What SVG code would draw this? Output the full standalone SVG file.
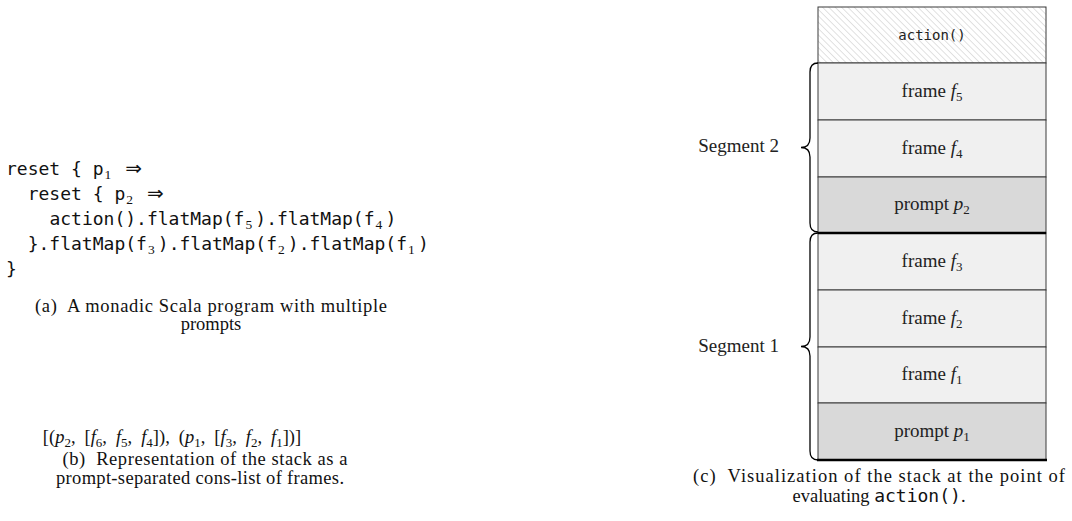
<svg xmlns="http://www.w3.org/2000/svg" width="1072" height="521" viewBox="0 0 1072 521">
<style>
.bg{fill:#ffffff}
.mono{font-family:"DejaVu Sans Mono",monospace;font-size:18px;fill:#111}
.sub{font-family:"Liberation Serif",serif;font-size:13.5px;fill:#111}
.arr{font-family:"DejaVu Sans",sans-serif;font-size:20px;fill:#111}
.cap{font-family:"Liberation Serif",serif;font-size:18.5px;fill:#111}
.it{font-style:italic}
.lbl{font-family:"Liberation Serif",serif;font-size:19px;fill:#222;text-anchor:middle}
.lsub{font-family:"Liberation Serif",serif;font-size:13px}
.seg{font-family:"Liberation Serif",serif;font-size:19px;fill:#222;text-anchor:end}
.smono{font-family:"DejaVu Sans Mono",monospace;font-size:14px;fill:#222;text-anchor:middle}
.frame{fill:#f0f0f0;stroke:#3a3a3a;stroke-width:1}
.prompt{fill:#d9d9d9;stroke:#3a3a3a;stroke-width:1}
.act{fill:url(#hatch);stroke:#3a3a3a;stroke-width:1}
.thick{stroke:#000;stroke-width:2.5}
.brace{fill:none;stroke:#000;stroke-width:1.3}
</style>
<defs>
<pattern id="hatch" width="4.5" height="4.5" patternUnits="userSpaceOnUse" patternTransform="rotate(-45)">
<rect width="4.5" height="4.5" fill="#ffffff"/>
<line x1="0" y1="0" x2="0" y2="4.5" stroke="#b4b4b4" stroke-width="0.8"/>
</pattern>
</defs>
<rect class="bg" x="0" y="0" width="1072" height="521"/>

<g id="code">
<text class="mono" y="175"><tspan x="6">reset { p</tspan><tspan class="sub" x="104.6" y="179">1</tspan><tspan class="arr" x="125.2" y="175">⇒</tspan></text>
<text class="mono" y="200"><tspan x="27.7">reset { p</tspan><tspan class="sub" x="126.2" y="204">2</tspan><tspan class="arr" x="146.9" y="200">⇒</tspan></text>
<text class="mono" y="225"><tspan x="49.4">action().flatMap(f</tspan><tspan class="sub" x="245.5" y="229">5</tspan><tspan x="255.3" y="225">).flatMap(f</tspan><tspan class="sub" x="375.6" y="229">4</tspan><tspan x="385.4" y="225">)</tspan></text>
<text class="mono" y="250"><tspan x="27.7">}.flatMap(f</tspan><tspan class="sub" x="147.9" y="254">3</tspan><tspan x="157.8" y="250">).flatMap(f</tspan><tspan class="sub" x="278" y="254">2</tspan><tspan x="287.8" y="250">).flatMap(f</tspan><tspan class="sub" x="408.1" y="254">1</tspan><tspan x="417.9" y="250">)</tspan></text>
<text class="mono" x="6" y="275">}</text>
</g>

<g id="caption-a">
<text class="cap" x="211" y="312" text-anchor="middle" textLength="352" xml:space="preserve">(a)  A monadic Scala program with multiple</text>
<text class="cap" x="211" y="330" text-anchor="middle">prompts</text>
</g>

<g id="list-b">
<text class="cap" x="172" y="443" text-anchor="middle" font-size="18">[(<tspan class="it">p</tspan><tspan class="lsub" dy="4">2</tspan><tspan dy="-4">,</tspan><tspan dx="9">[</tspan><tspan class="it">f</tspan><tspan class="lsub" dy="4">6</tspan><tspan dy="-4">,</tspan><tspan class="it" dx="9">f</tspan><tspan class="lsub" dy="4">5</tspan><tspan dy="-4">,</tspan><tspan class="it" dx="9">f</tspan><tspan class="lsub" dy="4">4</tspan><tspan dy="-4">]),</tspan><tspan dx="9">(</tspan><tspan class="it">p</tspan><tspan class="lsub" dy="4">1</tspan><tspan dy="-4">,</tspan><tspan dx="9">[</tspan><tspan class="it">f</tspan><tspan class="lsub" dy="4">3</tspan><tspan dy="-4">,</tspan><tspan class="it" dx="9">f</tspan><tspan class="lsub" dy="4">2</tspan><tspan dy="-4">,</tspan><tspan class="it" dx="9">f</tspan><tspan class="lsub" dy="4">1</tspan><tspan dy="-4">])]</tspan></text>
</g>

<g id="caption-b">
<text class="cap" x="205" y="465" text-anchor="middle" textLength="285" xml:space="preserve">(b)  Representation of the stack as a</text>
<text class="cap" x="200" y="484" text-anchor="middle" textLength="288">prompt-separated cons-list of frames.</text>
</g>

<g id="stack">
<g id="row-action"><rect class="act" x="818" y="7" width="228" height="56"/><text class="smono" x="932" y="40">action()</text></g>
<g id="row-f5"><rect class="frame" x="818" y="63" width="228" height="57"/><text class="lbl" x="932" y="97">frame <tspan class="it">f</tspan><tspan class="lsub" dy="4">5</tspan></text></g>
<g id="row-f4"><rect class="frame" x="818" y="120" width="228" height="57"/><text class="lbl" x="932" y="154">frame <tspan class="it">f</tspan><tspan class="lsub" dy="4">4</tspan></text></g>
<g id="row-p2"><rect class="prompt" x="818" y="177" width="228" height="56"/><text class="lbl" x="932" y="210">prompt <tspan class="it">p</tspan><tspan class="lsub" dy="4">2</tspan></text></g>
<g id="row-f3"><rect class="frame" x="818" y="233" width="228" height="57"/><text class="lbl" x="932" y="267">frame <tspan class="it">f</tspan><tspan class="lsub" dy="4">3</tspan></text></g>
<g id="row-f2"><rect class="frame" x="818" y="290" width="228" height="57"/><text class="lbl" x="932" y="324">frame <tspan class="it">f</tspan><tspan class="lsub" dy="4">2</tspan></text></g>
<g id="row-f1"><rect class="frame" x="818" y="347" width="228" height="56"/><text class="lbl" x="932" y="380">frame <tspan class="it">f</tspan><tspan class="lsub" dy="4">1</tspan></text></g>
<g id="row-p1"><rect class="prompt" x="818" y="403" width="228" height="57"/><text class="lbl" x="932" y="437">prompt <tspan class="it">p</tspan><tspan class="lsub" dy="4">1</tspan></text></g>
</g>

<g id="connectors">
<line class="thick" x1="818" y1="233" x2="1046" y2="233"/>
<line class="thick" x1="817" y1="460" x2="1047" y2="460"/>
<path class="brace" d="M818,63 C812,63 810,66 810,72 L810,138 C810,144 807,147.5 801,147.5 C807,147.5 810,151 810,157 L810,223 C810,229 812,232 818,232"/>
<path class="brace" d="M818,233 C812,233 810,236 810,242 L810,337 C810,343 807,346.5 801,346.5 C807,346.5 810,350 810,356 L810,451 C810,457 812,460 818,460"/>
</g>

<g id="segment-labels">
<text class="seg" x="779" y="152">Segment 2</text>
<text class="seg" x="779" y="352">Segment 1</text>
</g>

<g id="caption-c">
<text class="cap" x="879" y="482" text-anchor="middle" textLength="372" xml:space="preserve">(c)  Visualization of the stack at the point of</text>
<text class="cap" x="879" y="502" text-anchor="middle" font-size="19">evaluating <tspan style="font-family:'DejaVu Sans Mono',monospace;font-size:18px">action()</tspan>.</text>
</g>
</svg>
